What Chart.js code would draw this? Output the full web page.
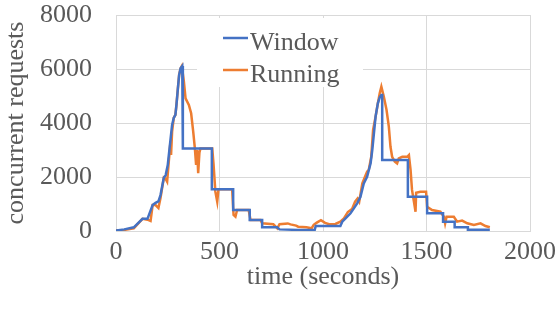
<!DOCTYPE html>
<html>
<head>
<meta charset="utf-8">
<script src="https://cdn.jsdelivr.net/npm/chart.js@4/dist/chart.umd.min.js"></script>
<style>
  html, body { margin: 0; padding: 0; background: #fff; }
  #wrap { width: 558px; height: 313px; }
</style>
</head>
<body>
<div id="wrap"><canvas id="grafico"></canvas></div>
<script>
// Window (blue) - stepped series, time in seconds
const windowT = [0, 40, 86, 128, 152, 177, 191, 205, 215, 231, 240, 250, 263, 271, 279, 287, 292, 299, 305, 312, 320, 323,
  323, 463, 463, 566, 566, 646, 646, 706, 706, 779, 790, 880, 960, 965, 1084, 1093, 1109, 1133, 1149, 1165, 1181, 1197,
  1213, 1230, 1238, 1254, 1265, 1274, 1282, 1286, 1286, 1410, 1410, 1503, 1503, 1580, 1580, 1636, 1636, 1700, 1700, 1806];
const windowV = [20, 60, 137, 450, 450, 960, 1040, 1100, 1330, 1975, 2070, 2440, 3370, 3930, 4190, 4300, 4670, 5285, 5780, 6025, 6110, 6110,
  3060, 3060, 1545, 1545, 778, 778, 407, 407, 137, 137, 60, 40, 40, 185, 185, 345, 470, 655, 840, 1025, 1270, 1765,
  2010, 2505, 3000, 4235, 4730, 4950, 5040, 5040, 2630, 2630, 1270, 1270, 655, 655, 345, 345, 137, 137, 50, 50];

// Running (orange)
const runningT = [0, 40, 86, 110, 128, 152, 167, 177, 191, 205, 215, 231, 240, 247, 255, 263, 266, 271, 279, 287, 292, 299, 305, 312, 318,
  328, 336, 352, 363, 373, 381, 387, 392, 397, 403, 408, 465, 471, 480, 489, 495, 561, 568, 577, 585, 641, 650, 698, 706,
  760, 775, 779, 790, 830, 843, 870, 880, 920, 945, 955, 970, 990, 1010, 1030, 1060, 1084, 1101, 1120, 1140, 1155, 1167,
  1175, 1190, 1200, 1213, 1221, 1233, 1242, 1254, 1265, 1274, 1282, 1294, 1307, 1318, 1326, 1334, 1347, 1358, 1366, 1383,
  1407, 1415, 1423, 1430, 1439, 1447, 1450, 1470, 1498, 1503, 1527, 1567, 1584, 1590, 1597, 1632, 1648, 1672, 1697, 1729,
  1761, 1785, 1806];
const runningV = [20, 40, 100, 300, 450, 420, 370, 960, 960, 850, 1220, 1975, 1930, 1830, 2570, 3300, 2815, 3680, 4190, 4300, 4670, 5285, 5780, 6025, 6110,
  5530, 4915, 4670, 4360, 3680, 3060, 2445, 3000, 2140, 2900, 3060, 3060, 2500, 1456, 1085, 1545, 1545, 593, 530, 778, 778, 407, 407, 284,
  250, 137, 100, 250, 280, 245, 200, 160, 137, 100, 230, 310, 400, 300, 250, 260, 345, 470, 700, 810, 1085, 1200,
  1085, 1765, 1950, 2200, 2260, 2750, 3740, 4235, 4730, 5100, 5345, 4975, 4480, 3865, 3120, 2750, 2570, 2505, 2690, 2750,
  2750, 2815, 2260, 1520, 1100, 715, 1420, 1456, 1456, 900, 778, 715, 530, 284, 530, 530, 345, 385, 284, 220,
  284, 185, 137];

const seriesNames = ['Window', 'Running'];
const xTicks = [0, 500, 1000, 1500, 2000];
const yTicks = [0, 2000, 4000, 6000, 8000];

const toPoints = (t, v) => t.map((x, i) => ({ x: x, y: v[i] }));

const cinza = '#595959';
const fonte = () => ({ family: 'Liberation Serif', size: 26, weight: 400, style: 'normal' });

// legenda desenhada dentro da área do gráfico, com fundo branco
const legendaInterna = {
  id: 'legendaInterna',
  afterDatasetsDraw(chart) {
    const ctx = chart.ctx;
    const area = chart.chartArea;
    const bx = area.left + 81, by = area.top + 3;
    ctx.save();
    ctx.fillStyle = '#fff';
    ctx.fillRect(bx, by, 166, 69);
    ctx.font = '26px "Liberation Serif"';
    ctx.textBaseline = 'alphabetic';
    ctx.textAlign = 'left';
    chart.data.datasets.forEach((ds, i) => {
      const ly = area.top + 23 + i * 32;
      ctx.strokeStyle = ds.borderColor;
      ctx.lineWidth = 2.5;
      ctx.beginPath();
      ctx.moveTo(bx + 26, ly);
      ctx.lineTo(bx + 51, ly);
      ctx.stroke();
      ctx.fillStyle = cinza;
      ctx.fillText(ds.label, bx + 53, ly + 12);
    });
    ctx.restore();
  }
};

new Chart(document.getElementById('grafico'), {
  type: 'line',
  data: {
    datasets: [{
      label: seriesNames[0],
      data: toPoints(windowT, windowV),
      borderColor: '#4472C4',
      borderWidth: 2.5,
      pointRadius: 0,
      tension: 0
    }, {
      label: seriesNames[1],
      data: toPoints(runningT, runningV),
      borderColor: '#ED7D31',
      borderWidth: 2.5,
      pointRadius: 0,
      tension: 0
    }]
  },
  options: {
    responsive: true,
    maintainAspectRatio: false,
    animation: false,
    layout: { padding: 0 },
    plugins: {
      legend: { display: false },
      tooltip: { enabled: false }
    },
    scales: {
      x: {
        type: 'linear',
        min: 0,
        max: 2000,
        afterBuildTicks: s => { s.ticks = xTicks.map(v => ({ value: v })); },
        afterFit: s => { s.height = 82; s.paddingLeft = 0; s.paddingRight = 28; },
        ticks: { color: cinza, font: fonte(), padding: 6, maxRotation: 0, callback: v => String(v) },
        grid: { color: '#d9d9d9', lineWidth: 1, drawTicks: false },
        border: { color: '#d9d9d9' },
        title: { display: true, text: 'time (seconds)', color: cinza, font: fonte(), padding: { top: 0, bottom: 20 } }
      },
      y: {
        min: 0,
        max: 8000,
        afterBuildTicks: s => { s.ticks = yTicks.map(v => ({ value: v })); },
        afterFit: s => { s.width = 116; s.paddingTop = 15; s.paddingBottom = 0; },
        ticks: { color: cinza, font: fonte(), padding: 24, callback: v => String(v) },
        grid: { color: '#d9d9d9', lineWidth: 1, drawTicks: false },
        border: { color: '#d9d9d9' },
        title: { display: true, text: 'concurrent requests', color: cinza, font: fonte(), padding: { top: 1, bottom: 0 } }
      }
    }
  },
  plugins: [legendaInterna]
});
</script>
</body>
</html>
